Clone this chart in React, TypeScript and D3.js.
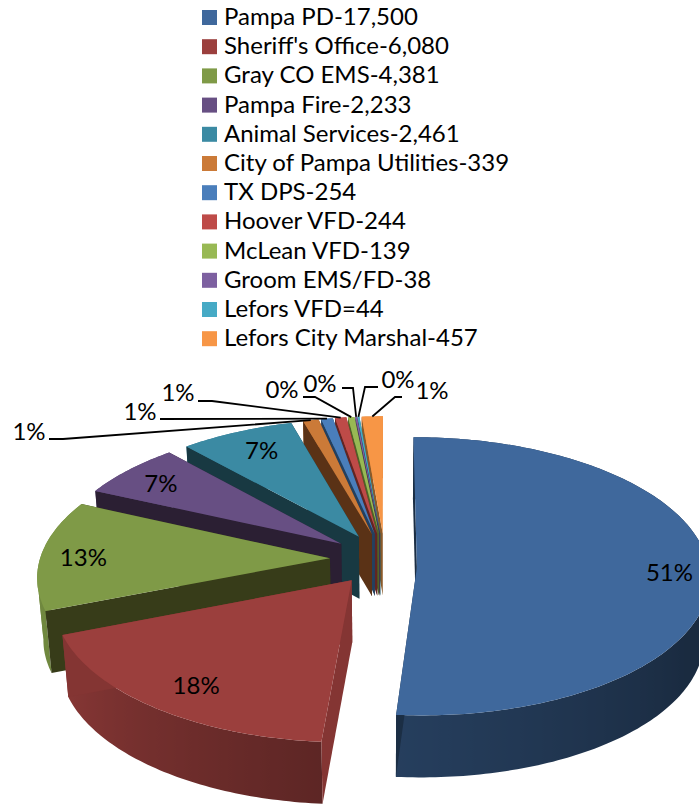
import React from 'react';
import * as d3 from 'd3';

const legendLabels = [
  'Pampa PD-17,500',
  "Sheriff's Office-6,080",
  'Gray CO EMS-4,381',
  'Pampa Fire-2,233',
  'Animal Services-2,461',
  'City of Pampa Utilities-339',
  'TX DPS-254',
  'Hoover VFD-244',
  'McLean VFD-139',
  'Groom EMS/FD-38',
  'Lefors VFD=44',
  'Lefors City Marshal-457',
];
const values = [17500, 6080, 4381, 2233, 2461, 339, 254, 244, 139, 38, 44, 457];

const topColors = ['#3f689c', '#9b3f3d', '#7f9a47', '#674f83', '#3b8aa3', '#cb7a38', '#4a7ebb', '#be4b48', '#98b954', '#7d60a0', '#46aac5', '#f79646'];
const faceColors = ['#1b2e44', '#843533', '#373c19', '#2b1f33', '#183942', '#5a3216', '#24405f', '#622523', '#4f6228', '#3f3151', '#205867', '#8a5a2a'];

// label centre + elbow for the small slices pulled out with leader lines
const calloutLayout: Record<number, { tx: number; ty: number; sx: number; ex: number; ey: number }> = {
  5: { tx: 29, ty: 432, sx: 49, ex: 63, ey: 439 },
  6: { tx: 140, ty: 412, sx: 160, ex: 161, ey: 419 },
  7: { tx: 178, ty: 393, sx: 198, ex: 212, ey: 401 },
  8: { tx: 282, ty: 390, sx: 303, ex: 315, ey: 397 },
  9: { tx: 320, ty: 384, sx: 342, ex: 353, ey: 388 },
  10: { tx: 398, ty: 380, sx: 378, ex: 365, ey: 387 },
  11: { tx: 432, ty: 391, sx: 402, ex: 395, ey: 397 },
};
// nudges for the labels that sit inside their slice
const insideNudge: Record<number, [number, number]> = {
  0: [8, 9],
  1: [8, 1],
  2: [-4, 3],
  3: [0, 3],
  4: [7, 3],
};

const FONT = 'Lato, Carlito, sans-serif';
const VX = 385;
const Y0 = 559;
const A = 290;
const B = 137;
const K = 0.12;
const DEPTH = 62;
const explode = (i: number) => (i === 0 ? 0.11 : 0.19);
const apexShift = (i: number) => (i === 0 ? 8 : 0);

const arcs = d3.pie<number>().sort(null)(values);

const project = (X: number, Y: number, down = false): [number, number] => {
  const s = 1 / (1 - K * Y);
  const xs = A * X * s * (down ? 0.982 : 1);
  return [VX + xs, Y0 + B * Y * s + (down ? DEPTH : 0)];
};

const slicePoint = (i: number, theta: number, r: number, down = false) => {
  const a = arcs[i];
  const m = (a.startAngle + a.endAngle) / 2;
  const e = explode(i);
  const X = e * Math.sin(m) + r * Math.sin(theta);
  const Y = -(e * Math.cos(m) + r * Math.cos(theta));
  const p = project(X, Y, down);
  if (r === 0) p[1] += apexShift(i);
  return p;
};

const line = d3.line<[number, number]>();
const deg = (r: number) => (r * 180) / Math.PI;
const rad = (d: number) => (d * Math.PI) / 180;

const rimShade = d3.scaleLinear().domain([90, 120, 184, 248, 290]).range([0.41, 0.41, 0.6, 0.88, 0.92]).clamp(true);
const percent = (v: number) => `${Math.round((v / d3.sum(values)) * 100)}%`;

function Slice({ i }: { i: number }) {
  const a = arcs[i];
  const steps = Math.max(2, Math.ceil(deg(a.endAngle - a.startAngle)));
  const thetas = d3.range(steps + 1).map((k) => a.startAngle + ((a.endAngle - a.startAngle) * k) / steps);
  const rimTop = thetas.map((t) => slicePoint(i, t, 1));
  const apex = slicePoint(i, 0, 0);
  const apexDown = slicePoint(i, 0, 0, true);

  const faces = [a.startAngle, a.endAngle]
    .map((t) => {
      const o = slicePoint(i, t, 1);
      const od = slicePoint(i, t, 1, true);
      return { pts: [apex, o, od, apexDown] as [number, number][], my: o[1] };
    })
    .sort((p, q) => p.my - q.my);

  // the rim folds over where its x turns back, so it is cut there into separate polygons
  const cutIdx = d3.range(1, thetas.length - 1).filter(
    (k) => (rimTop[k][0] - rimTop[k - 1][0]) * (rimTop[k + 1][0] - rimTop[k][0]) < 0,
  );
  const edges = [0, ...cutIdx, thetas.length - 1];
  const rimParts = d3.pairs(edges).map(([k0, k1]) => {
    const run = thetas.slice(k0, k1 + 1);
    const top = run.map((t) => slicePoint(i, t, 1));
    const bottom = run.map((t) => slicePoint(i, t, 1, true)).reverse();
    return line([...top, ...bottom]) + 'Z';
  });

  // horizontal gradient along the front of the rim, x is monotonic between 90 and 262 degrees
  const front = thetas.filter((t) => deg(t) >= 90 && deg(t) <= 262);
  const stopThetas = front.length > 1 ? front : [rad(Math.max(90, Math.min(262, deg(a.startAngle)))), rad(Math.max(90, Math.min(262, deg(a.endAngle))))];
  const xs = stopThetas.map((t) => slicePoint(i, t, 1)[0]);
  const x0 = d3.min(xs)!;
  const x1 = Math.max(d3.max(xs)!, x0 + 1);
  const base = d3.rgb(topColors[i]);
  const stops = stopThetas
    .map((t) => {
      const f = rimShade(deg(t));
      return {
        offset: (slicePoint(i, t, 1)[0] - x0) / (x1 - x0),
        color: d3.rgb(base.r * f, base.g * f, base.b * f).formatHex(),
      };
    })
    .sort((p, q) => p.offset - q.offset);

  return (
    <g>
      <defs>
        <linearGradient id={`rim-${i}`} gradientUnits="userSpaceOnUse" x1={x0} x2={x1} y1={0} y2={0}>
          {stops.map((s, k) => (
            <stop key={k} offset={s.offset} stopColor={s.color} />
          ))}
        </linearGradient>
      </defs>
      {rimParts.map((d, k) => (
        <path key={k} d={d} fill={`url(#rim-${i})`} />
      ))}
      {faces.map((f, k) => (
        <path key={k} d={line(f.pts) + 'Z'} fill={faceColors[i]} />
      ))}
      <path d={line([apex, ...rimTop]) + 'Z'} fill={topColors[i]} />
    </g>
  );
}

export default function App() {
  const drawOrder = d3.range(values.length).reverse();
  return (
    <svg width={699} height={805} style={{ position: 'absolute', left: 0, top: 0 }} fontFamily={FONT}>
      {legendLabels.map((d, i) => (
        <g key={d}>
          <rect x={202} y={10 + i * 29.2} width={15} height={15} fill={topColors[i]} />
          <text x={224} y={25 + i * 29.2} fontSize={24} fill="#000">
            {d}
          </text>
        </g>
      ))}
      {drawOrder.map((i) => (
        <Slice key={i} i={i} />
      ))}
      {arcs.map((a, i) => {
        const m = (a.startAngle + a.endAngle) / 2;
        const c = calloutLayout[i];
        if (c) {
          const end = slicePoint(i, m, 1);
          return (
            <g key={i}>
              <path d={line([[c.sx, c.ey], [c.ex, c.ey], end])!} fill="none" stroke="#000" strokeWidth={1.8} />
              <text x={c.tx} y={c.ty + 8} textAnchor="middle" fontSize={24}>
                {percent(values[i])}
              </text>
            </g>
          );
        }
        const [x, y] = slicePoint(i, m, 0.84);
        const [nx, ny] = insideNudge[i];
        return (
          <text key={i} x={x + nx} y={y + 8 + ny} textAnchor="middle" fontSize={24}>
            {percent(values[i])}
          </text>
        );
      })}
    </svg>
  );
}
